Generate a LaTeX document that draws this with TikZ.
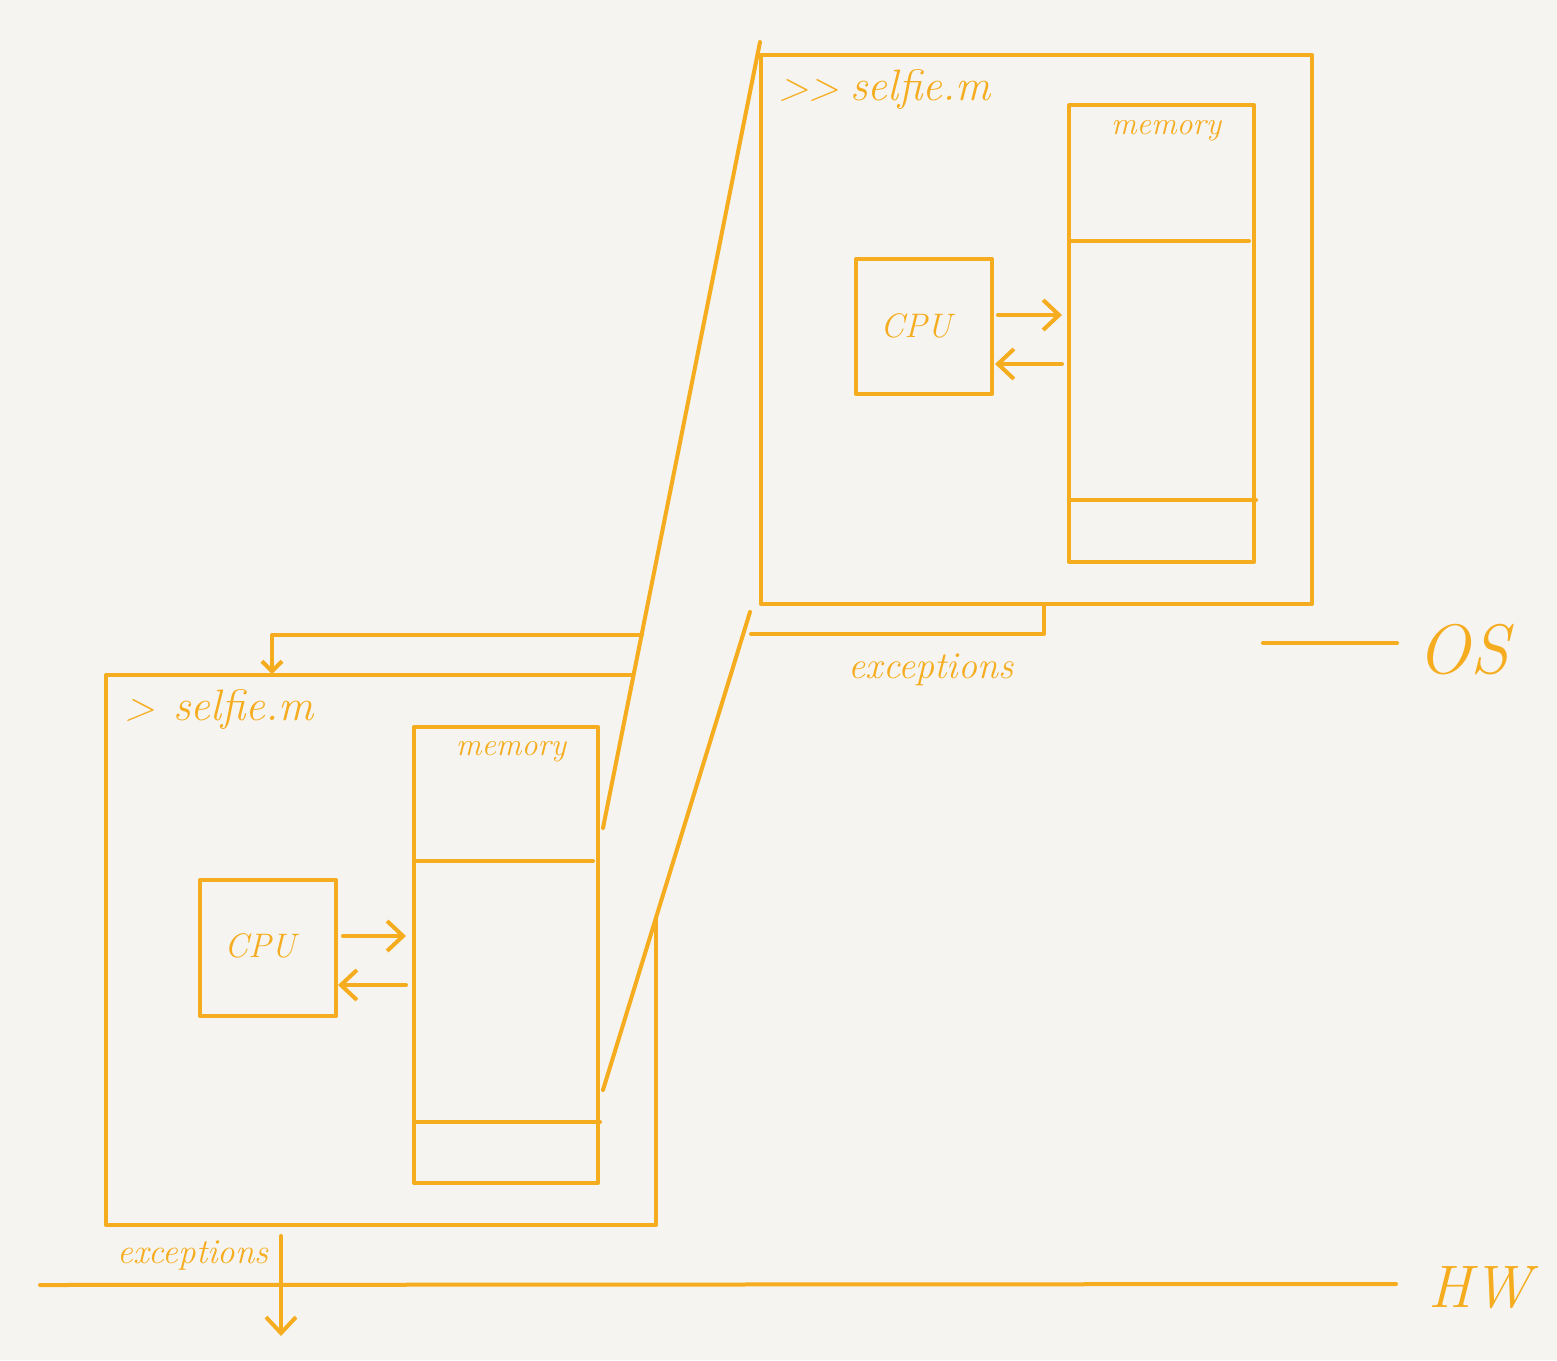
\documentclass[tikz,border=0pt]{standalone}
\usepackage{fontspec}
\usetikzlibrary{arrows.meta}
\definecolor{ink}{RGB}{245,172,30}
\definecolor{paper}{RGB}{245,244,240}
\tikzset{
  pen/.style={draw=ink, line width=4pt, line cap=round, line join=round},
  boxnode/.style={pen, rectangle, inner sep=0pt, outer sep=0pt},
  hand/.style={text=ink, inner sep=0pt, font=\itshape\fontsize{#1}{#1}\selectfont},
  barb/.style={-{Straight Barb[length=16pt,width=30pt]}}
}
\begin{document}
\begin{tikzpicture}[x=1pt,y=-1pt]
\fill[paper] (0,0) rectangle (1557,1360);
\useasboundingbox (0,0) rectangle (1557,1360);

% ---------- upper (OS level) machine ----------
\node[boxnode, minimum width=551pt, minimum height=549pt] (osbox) at (1036.5,329.5) {};
\node[boxnode, minimum width=185pt, minimum height=457pt] (osmem) at (1161.5,333.5) {};
\coordinate (osmA1) at (1069,241); \coordinate (osmA2) at (1249,241);
\coordinate (osmB1) at (1069,500); \coordinate (osmB2) at (1256,500);
\draw[pen] (osmA1) -- (osmA2);
\draw[pen] (osmB1) -- (osmB2);
\node[hand=32] (osmemlabel) at (1166,131) {memory};
\node[boxnode, minimum width=136pt, minimum height=135pt] (oscpu) at (924,326.5) {};
\node[hand=34] (oscpulabel) at (916,326) {CPU};
\coordinate (osa1) at (998,315); \coordinate (osa2) at (1062,315);
\coordinate (osb1) at (1062,364); \coordinate (osb2) at (995,364);
\draw[pen, barb] (osa1) -- (osa2);
\draw[pen, barb] (osb1) -- (osb2);
\node[hand=40, anchor=base west] (osgt) at (778,100) {>{}>};
\node[hand=44, anchor=base west] (osprompt) at (850,100) {selfie.m};

% ---------- lower (HW level) machine ----------
\coordinate (lbTL) at (106,675);
\coordinate (lbTR) at (633,675);
\coordinate (lbBL) at (106,1225);
\coordinate (lbBR) at (656,1225);
\coordinate (lbRT) at (656,918);
\draw[pen] (lbTR) -- (lbTL) -- (lbBL) -- (lbBR) -- (lbRT);
\node[boxnode, minimum width=184pt, minimum height=456pt] (hwmem) at (506,955) {};
\coordinate (hwmA1) at (414,861); \coordinate (hwmA2) at (593,861);
\coordinate (hwmB1) at (414,1122); \coordinate (hwmB2) at (600,1122);
\draw[pen] (hwmA1) -- (hwmA2);
\draw[pen] (hwmB1) -- (hwmB2);
\node[hand=32] (hwmemlabel) at (511,752) {memory};
\node[boxnode, minimum width=136pt, minimum height=136pt] (hwcpu) at (268,948) {};
\node[hand=34] (hwcpulabel) at (260,946) {CPU};
\coordinate (hwa1) at (343,936); \coordinate (hwa2) at (406,936);
\coordinate (hwb1) at (406,985); \coordinate (hwb2) at (338,985);
\draw[pen, barb] (hwa1) -- (hwa2);
\draw[pen, barb] (hwb1) -- (hwb2);
\node[hand=40, anchor=base west] (hwgt) at (124,720) {>};
\node[hand=44, anchor=base west] (hwprompt) at (173,720) {selfie.m};

% ---------- zoom lines ----------
\coordinate (zt1) at (760,42); \coordinate (zt2) at (603,828);
\coordinate (zb1) at (750,612); \coordinate (zb2) at (603,1090);
\draw[pen] (zt1) -- (zt2);
\draw[pen] (zb1) -- (zb2);

% ---------- exceptions from OS machine ----------
\coordinate (ex1) at (1044,606);
\coordinate (ex2) at (1044,634);
\coordinate (ex3) at (751,634);
\coordinate (ex4) at (642,635);
\coordinate (ex5) at (272,635);
\coordinate (ex6) at (272,674);
\draw[pen] (ex1) -- (ex2) -- (ex3);
\draw[pen, -{Straight Barb[length=10pt,width=20pt]}] (ex4) -- (ex5) -- (ex6);
\node[hand=38] (osexc) at (931,670) {exceptions};

% ---------- exceptions from HW machine ----------
\coordinate (hx1) at (281,1236);
\coordinate (hx2) at (281,1336);
\draw[pen, barb] (hx1) -- (hx2);
\node[hand=35] (hwexc) at (193,1256) {exceptions};

% ---------- level lines ----------
\coordinate (os1) at (1263,643); \coordinate (os2) at (1397,643);
\draw[pen] (os1) -- (os2);
\node[hand=70] (oslabel) at (1463,650) {OS};
\coordinate (hw1) at (40,1285); \coordinate (hw2) at (1396,1284);
\draw[pen] (hw1) -- (hw2);
\node[hand=60] (hwlabel) at (1480,1288) {HW};
\end{tikzpicture}
\end{document}
